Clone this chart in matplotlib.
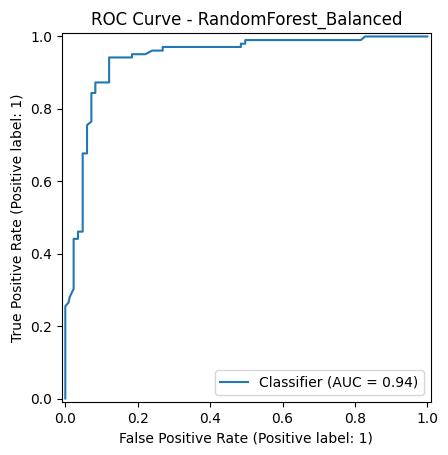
import matplotlib
matplotlib.use("Agg")
import matplotlib.pyplot as plt

fpr = [0.0, 0.0, 0.009, 0.012, 0.023, 0.023, 0.035, 0.035, 0.048, 0.048,
       0.060, 0.060, 0.072, 0.072, 0.083, 0.083, 0.121, 0.121, 0.184, 0.184,
       0.221, 0.240, 0.269, 0.269, 0.485, 0.485, 0.497, 0.497, 0.816, 0.828, 1.0]
tpr = [0.0, 0.255, 0.265, 0.280, 0.303, 0.441, 0.441, 0.461, 0.461, 0.677,
       0.677, 0.755, 0.765, 0.844, 0.844, 0.873, 0.873, 0.942, 0.942, 0.951,
       0.951, 0.961, 0.961, 0.971, 0.971, 0.980, 0.980, 0.990, 0.990, 1.0, 1.0]

title = "ROC Curve - RandomForest_Balanced"
label = "Classifier (AUC = 0.94)"
xlabel = "False Positive Rate (Positive label: 1)"
ylabel = "True Positive Rate (Positive label: 1)"

fig = plt.figure(figsize=(4.48, 4.55), dpi=100)
ax = fig.add_axes([0.1377, 0.115, 0.8243, 0.814])
ax.plot(fpr, tpr, color="#1f77b4", label=label)
ax.set_xlim(-0.01, 1.01)
ax.set_ylim(-0.01, 1.01)
ax.set_aspect("equal")
ax.set_xlabel(xlabel)
ax.set_ylabel(ylabel)
ax.set_title(title)
ax.legend(loc="lower right")
fig.savefig("out.png", dpi=100)
